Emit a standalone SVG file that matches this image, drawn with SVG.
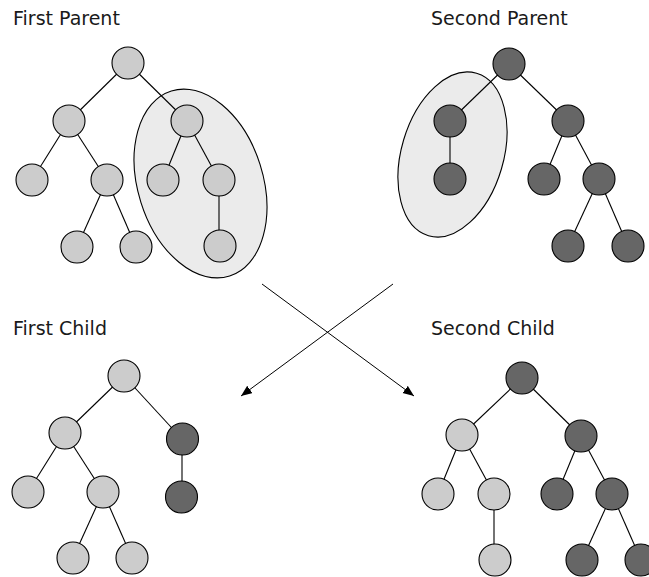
<svg xmlns="http://www.w3.org/2000/svg" width="649" height="577" viewBox="0 0 649 577">
  <style>
    .lbl { font-family: "DejaVu Sans", sans-serif; font-size: 19px; fill: #1a1a1a; }
    .edge { stroke: #000; stroke-width: 1.1; fill: none; }
    .lt { fill: #cccccc; stroke: #000; stroke-width: 1.1; }
    .dk { fill: #666666; stroke: #000; stroke-width: 1.1; }
    .sel { fill: #ebebeb; stroke: #000; stroke-width: 1.1; }
    .arr { stroke: #000; stroke-width: 1; fill: none; marker-end: url(#ah); }
  </style>
  <defs>
    <marker id="ah" markerUnits="userSpaceOnUse" markerWidth="12" markerHeight="10" refX="11" refY="4.5" orient="auto">
      <path d="M0,0 L11,4.5 L0,9 Z" fill="#000"/>
    </marker>
  </defs>
  <rect width="649" height="577" fill="#fff"/>

  <text class="lbl" x="13" y="25">First Parent</text>
  <text class="lbl" x="431" y="25">Second Parent</text>
  <text class="lbl" x="13" y="335">First Child</text>
  <text class="lbl" x="431" y="335">Second Child</text>

  <g id="selections">
    <ellipse class="sel" cx="0" cy="0" rx="62.5" ry="97" transform="translate(200.5,183.5) rotate(-17.5)"/>
    <ellipse class="sel" cx="0" cy="0" rx="51" ry="84.7" transform="translate(452.5,154.5) rotate(16.5)"/>
  </g>

  <g id="connectors">
    <!-- First Parent -->
    <line class="edge" x1="128" y1="63" x2="69" y2="121"/>
    <line class="edge" x1="128" y1="63" x2="187" y2="121"/>
    <line class="edge" x1="69" y1="121" x2="32" y2="180"/>
    <line class="edge" x1="69" y1="121" x2="107" y2="180"/>
    <line class="edge" x1="107" y1="180" x2="77" y2="247"/>
    <line class="edge" x1="107" y1="180" x2="136" y2="247"/>
    <line class="edge" x1="187" y1="121" x2="163" y2="180"/>
    <line class="edge" x1="187" y1="121" x2="219" y2="180"/>
    <line class="edge" x1="219" y1="180" x2="219" y2="246"/>
    <!-- Second Parent -->
    <line class="edge" x1="509" y1="64" x2="450" y2="121"/>
    <line class="edge" x1="509" y1="64" x2="568" y2="121"/>
    <line class="edge" x1="450" y1="121" x2="450" y2="179"/>
    <line class="edge" x1="568" y1="121" x2="544" y2="179"/>
    <line class="edge" x1="568" y1="121" x2="599" y2="179"/>
    <line class="edge" x1="599" y1="179" x2="568" y2="246"/>
    <line class="edge" x1="599" y1="179" x2="628" y2="246"/>
    <!-- First Child -->
    <line class="edge" x1="124" y1="376" x2="65" y2="433"/>
    <line class="edge" x1="124" y1="376" x2="182" y2="439"/>
    <line class="edge" x1="65" y1="433" x2="28" y2="492"/>
    <line class="edge" x1="65" y1="433" x2="103" y2="492"/>
    <line class="edge" x1="103" y1="492" x2="73" y2="558"/>
    <line class="edge" x1="103" y1="492" x2="132" y2="558"/>
    <line class="edge" x1="182" y1="439" x2="182" y2="497"/>
    <!-- Second Child -->
    <line class="edge" x1="522" y1="378" x2="462" y2="435"/>
    <line class="edge" x1="522" y1="378" x2="581" y2="436"/>
    <line class="edge" x1="462" y1="435" x2="438" y2="494"/>
    <line class="edge" x1="462" y1="435" x2="494" y2="494"/>
    <line class="edge" x1="494" y1="494" x2="494" y2="560"/>
    <line class="edge" x1="581" y1="436" x2="557" y2="494"/>
    <line class="edge" x1="581" y1="436" x2="612" y2="494"/>
    <line class="edge" x1="612" y1="494" x2="582" y2="560"/>
    <line class="edge" x1="612" y1="494" x2="641" y2="560"/>
    <!-- Crossover arrows -->
    <line class="arr" x1="262" y1="284" x2="414" y2="396"/>
    <line class="arr" x1="393" y1="284" x2="241" y2="396"/>
  </g>

  <!-- First Parent nodes -->
  <g id="fp_root"><circle class="lt" cx="128" cy="63" r="16"/></g>
  <g id="fp_l"><circle class="lt" cx="69" cy="121" r="16"/></g>
  <g id="fp_r"><circle class="lt" cx="187" cy="121" r="16"/></g>
  <g id="fp_ll"><circle class="lt" cx="32" cy="180" r="16"/></g>
  <g id="fp_lr"><circle class="lt" cx="107" cy="180" r="16"/></g>
  <g id="fp_rl"><circle class="lt" cx="163" cy="180" r="16"/></g>
  <g id="fp_rr"><circle class="lt" cx="219" cy="180" r="16"/></g>
  <g id="fp_lrl"><circle class="lt" cx="77" cy="247" r="16"/></g>
  <g id="fp_lrr"><circle class="lt" cx="136" cy="247" r="16"/></g>
  <g id="fp_rrc"><circle class="lt" cx="220" cy="246" r="16"/></g>

  <!-- Second Parent nodes -->
  <g id="sp_root"><circle class="dk" cx="509" cy="64" r="16"/></g>
  <g id="sp_l"><circle class="dk" cx="450" cy="121" r="16"/></g>
  <g id="sp_r"><circle class="dk" cx="568" cy="121" r="16"/></g>
  <g id="sp_lc"><circle class="dk" cx="450" cy="179" r="16"/></g>
  <g id="sp_rl"><circle class="dk" cx="544" cy="179" r="16"/></g>
  <g id="sp_rr"><circle class="dk" cx="599" cy="179" r="16"/></g>
  <g id="sp_rrl"><circle class="dk" cx="568" cy="246" r="16"/></g>
  <g id="sp_rrr"><circle class="dk" cx="628" cy="246" r="16"/></g>

  <!-- First Child nodes -->
  <g id="fc_root"><circle class="lt" cx="124" cy="376" r="16"/></g>
  <g id="fc_l"><circle class="lt" cx="65" cy="433" r="16"/></g>
  <g id="fc_r"><circle class="dk" cx="182.5" cy="439" r="16"/></g>
  <g id="fc_ll"><circle class="lt" cx="28" cy="492" r="16"/></g>
  <g id="fc_lr"><circle class="lt" cx="103" cy="492" r="16"/></g>
  <g id="fc_rc"><circle class="dk" cx="181.5" cy="497" r="16"/></g>
  <g id="fc_lrl"><circle class="lt" cx="73" cy="558" r="16"/></g>
  <g id="fc_lrr"><circle class="lt" cx="132" cy="558" r="16"/></g>

  <!-- Second Child nodes -->
  <g id="sc_root"><circle class="dk" cx="522" cy="378" r="16"/></g>
  <g id="sc_l"><circle class="lt" cx="462" cy="435" r="16"/></g>
  <g id="sc_r"><circle class="dk" cx="581" cy="436" r="16"/></g>
  <g id="sc_ll"><circle class="lt" cx="438" cy="494" r="16"/></g>
  <g id="sc_lr"><circle class="lt" cx="494" cy="494" r="16"/></g>
  <g id="sc_rl"><circle class="dk" cx="557" cy="494" r="16"/></g>
  <g id="sc_rr"><circle class="dk" cx="612" cy="494" r="16"/></g>
  <g id="sc_lrc"><circle class="lt" cx="495" cy="560" r="16"/></g>
  <g id="sc_rrl"><circle class="dk" cx="582" cy="560" r="16"/></g>
  <g id="sc_rrr"><circle class="dk" cx="641" cy="560" r="16"/></g>
</svg>
